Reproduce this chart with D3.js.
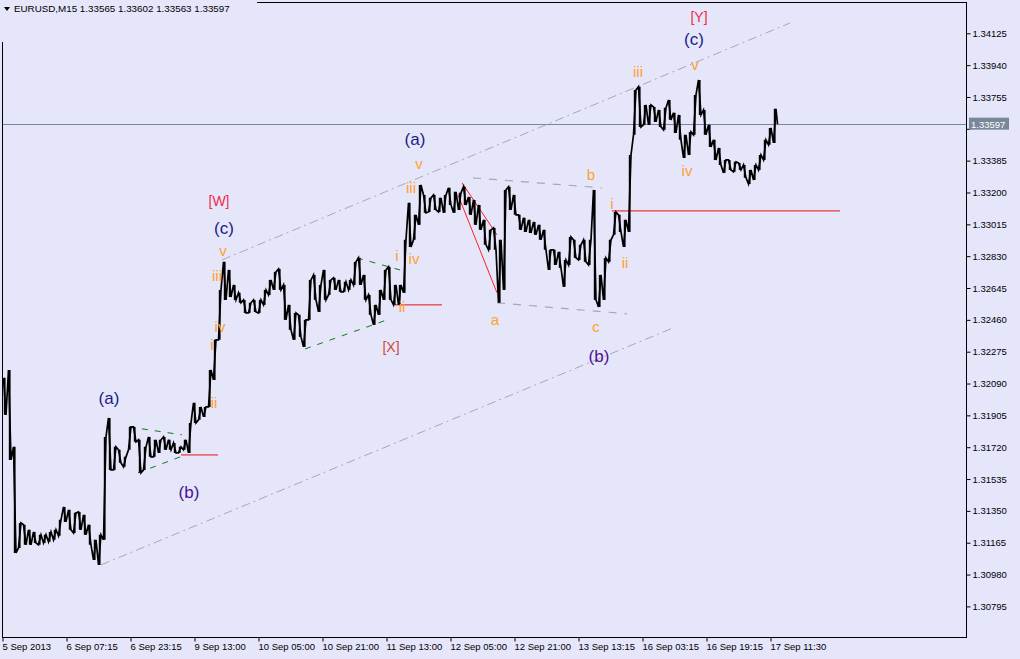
<!DOCTYPE html>
<html><head><meta charset="utf-8">
<script src="https://cdn.jsdelivr.net/npm/d3@7/dist/d3.min.js"></script>
<style>
html,body{margin:0;padding:0;background:#e6e6fa;}
svg{display:block;}
text{font-family:"Liberation Sans",Arial,sans-serif;}
</style></head>
<body><svg id="c" width="1020" height="659"></svg>
<script>
// ---- data ----
const symbolTitle = "EURUSD,M15  1.33565 1.33602 1.33563 1.33597";
const priceTicks = [1.34125,1.33940,1.33755,1.33570,1.33385,1.33200,1.33015,1.32830,1.32645,1.32460,1.32275,1.32090,1.31905,1.31720,1.31535,1.31350,1.31165,1.30980,1.30795];
const timeLabels = ["5 Sep 2013","6 Sep 07:15","6 Sep 23:15","9 Sep 13:00","10 Sep 05:00","10 Sep 21:00","11 Sep 13:00","12 Sep 05:00","12 Sep 21:00","13 Sep 13:15","16 Sep 03:15","16 Sep 19:15","17 Sep 11:30"];
const timeTickBars = [0,64,128,192,256,320,384,448,512,576,640,704,768];
const barsPerBlock = 5;
const blockHigh = [1.32123,1.32169,1.31722,1.31280,1.31269,1.31240,1.31228,1.31211,1.31211,1.31228,
1.31240,1.31298,1.31373,1.31356,1.31339,1.31344,1.31327,1.31269,1.31182,1.31211,
1.31780,1.31890,1.31722,1.31705,1.31664,1.31838,1.31838,1.31763,1.31722,1.31780,
1.31763,1.31763,1.31780,1.31763,1.31745,1.31722,1.31763,1.31861,1.31978,1.31954,
1.31954,1.32169,1.32344,1.32634,1.32797,1.32750,1.32663,1.32617,1.32576,1.32559,
1.32576,1.32576,1.32634,1.32692,1.32739,1.32756,1.32663,1.32547,1.32500,1.32489,
1.32460,1.32692,1.32721,1.32663,1.32750,1.32692,1.32704,1.32692,1.32681,1.32692,
1.32797,1.32820,1.32721,1.32605,1.32547,1.32634,1.32750,1.32768,1.32663,1.32663,
1.32925,1.33140,1.33070,1.33244,1.33186,1.33169,1.33186,1.33169,1.33186,1.33227,
1.33204,1.33198,1.33233,1.33174,1.33157,1.33128,1.33041,1.32983,1.32994,1.32925,
1.33215,1.33233,1.33186,1.33070,1.33053,1.33041,1.33029,1.33012,1.32983,1.32867,
1.32867,1.32855,1.32808,1.32942,1.32925,1.32896,1.32925,1.32925,1.33215,1.32721,
1.32820,1.32925,1.33087,1.33070,1.33041,1.33418,1.33796,1.33814,1.33709,1.33709,
1.33697,1.33680,1.33692,1.33738,1.33663,1.33651,1.33535,1.33552,1.33767,1.33854,
1.33680,1.33593,1.33506,1.33459,1.33389,1.33389,1.33378,1.33372,1.33360,1.33331,
1.33360,1.33418,1.33506,1.33575,1.33686];
const blockLow = [1.31908,1.31646,1.31106,1.31135,1.31153,1.31153,1.31164,1.31153,1.31164,1.31170,
1.31182,1.31205,1.31286,1.31240,1.31222,1.31240,1.31211,1.31153,1.31065,1.31036,
1.31182,1.31588,1.31588,1.31629,1.31606,1.31705,1.31751,1.31571,1.31588,1.31664,
1.31664,1.31687,1.31705,1.31705,1.31687,1.31687,1.31705,1.31687,1.31861,1.31879,
1.31896,1.31954,1.32111,1.32344,1.32576,1.32593,1.32576,1.32559,1.32500,1.32500,
1.32506,1.32500,1.32547,1.32605,1.32634,1.32634,1.32460,1.32402,1.32344,1.32361,
1.32303,1.32460,1.32576,1.32506,1.32576,1.32605,1.32634,1.32623,1.32623,1.32634,
1.32663,1.32663,1.32576,1.32489,1.32431,1.32489,1.32576,1.32576,1.32547,1.32547,
1.32617,1.32884,1.32925,1.33012,1.33082,1.33087,1.33099,1.33087,1.33082,1.33128,
1.33082,1.33099,1.33128,1.33070,1.33012,1.32983,1.32896,1.32867,1.32867,1.32559,
1.32634,1.33099,1.33070,1.32983,1.32971,1.32965,1.32954,1.32925,1.32867,1.32750,
1.32779,1.32762,1.32652,1.32779,1.32820,1.32808,1.32797,1.32779,1.32576,1.32535,
1.32576,1.32797,1.32954,1.32971,1.32884,1.32971,1.33535,1.33581,1.33593,1.33593,
1.33610,1.33581,1.33564,1.33622,1.33546,1.33506,1.33401,1.33418,1.33535,1.33651,
1.33535,1.33465,1.33389,1.33360,1.33314,1.33331,1.33320,1.33331,1.33285,1.33250,
1.33273,1.33331,1.33389,1.33477,1.33488];
const lastBar = 775;
const lastClose = 1.33597;

// annotation objects: [bar0, price0, bar1, price1]
const channelLines = [[219.5,1.32808,787.5,1.34185],[98.5,1.31036,670.5,1.32413]];
const flatLines = [[470.5,1.33285,599.5,1.33227],[494.5,1.32559,624.5,1.32495]];
const wedgeLines = [[459.5,1.33256,494.5,1.32954],[455.5,1.33186,494.5,1.32617]];
const levelLines = [[178.5,1.31675,215.5,1.31675],[392.5,1.32547,439.5,1.32547],[609.5,1.33093,837.5,1.33093]];
const triangleLines = [[126.5,1.31838,179.5,1.31792],[135.5,1.31571,180.5,1.31670],[354.5,1.32820,397.5,1.32750],[302.5,1.32291,384.5,1.32460]];
// wave labels: [text, bar, price, degree]
const waveLabels = [
 ["(a)",106.5,1.32001,"minor"],["(b)",186.5,1.31455,"minorB"],["ii",211.5,1.31978,"minute"],["i",209.5,1.32315,"minute"],
 ["iv",217.5,1.32419,"minute"],["iii",214.5,1.32715,"minute"],["v",220.5,1.32861,"minute"],["(c)",221.5,1.32989,"minor"],
 ["[W]",216.5,1.33151,"inter"],["[X]",388.5,1.32303,"interX"],["ii",399.5,1.32535,"minute"],["i",394.5,1.32832,"minute"],
 ["iv",411.5,1.32814,"minute"],["iii",408.5,1.33227,"minute"],["v",416.5,1.33366,"minute"],["(a)",412.5,1.33506,"minor"],
 ["a",492.5,1.32460,"minute"],["b",588.5,1.33302,"minute"],["c",593.5,1.32419,"minute"],["(b)",596.5,1.32245,"minorB"],
 ["i",609.5,1.33134,"minute"],["ii",622.5,1.32791,"minute"],["iii",635.5,1.33901,"minute"],["v",692.5,1.33941,"minute"],
 ["(c)",691.5,1.34087,"minor"],["[Y]",696.5,1.34220,"inter"],["iv",684.5,1.33326,"minute"]
];

// ---- layout ----
const W = 1020, H = 659;
const plot = {x0: 2.5, x1: 966.5, y0: 2.5, y1: 637.5};
const bg = "#e6e6fa";
const svg = d3.select("#c");
svg.append("rect").attr("width", W).attr("height", H).attr("fill", bg);

const x = d3.scaleLinear().domain([0, 964]).range([plot.x0, plot.x1]);
const y = d3.scaleLinear().domain([1.34125, 1.30795]).range([33.3, 606.4]);

svg.append("clipPath").attr("id","pc").append("rect")
  .attr("x", plot.x0).attr("y", plot.y0).attr("width", plot.x1-plot.x0).attr("height", plot.y1-plot.y0);
const g = svg.append("g").attr("clip-path","url(#pc)");

// current price line
g.append("line").attr("x1", plot.x0).attr("x2", plot.x1)
  .attr("y1", Math.round(y(lastClose))+0.5).attr("y2", Math.round(y(lastClose))+0.5)
  .attr("stroke", "#778899").attr("stroke-width", 1);

function seg(sel, arr, color, dash, w) {
  sel.selectAll(null).data(arr).enter().append("line")
    .attr("x1", d => x(d[0])).attr("y1", d => y(d[1]))
    .attr("x2", d => x(d[2])).attr("y2", d => y(d[3]))
    .attr("stroke", color).attr("stroke-width", w || 1)
    .attr("stroke-dasharray", dash || null);
}
seg(g, channelLines, "#a8a8b0", "9,4,2,4", 1);
seg(g, flatLines, "#a8a8b0", "8,8", 1.2);
seg(g, triangleLines, "#127a12", "6,7", 1);
seg(g, wedgeLines, "#ff2020", null, 1);
seg(g, levelLines, "#e81010", null, 1);

// price path
const pts = [];
const n = blockHigh.length;
for (let i = 0; i < n; i++) {
  const b = i * barsPerBlock;
  const mid = (blockHigh[i] + blockLow[i]) / 2;
  const nextMid = i < n - 1 ? (blockHigh[i+1] + blockLow[i+1]) / 2 : lastClose;
  if (nextMid >= mid) { pts.push([b + 1, blockLow[i]]); pts.push([b + 3.5, blockHigh[i]]); }
  else { pts.push([b + 1, blockHigh[i]]); pts.push([b + 3.5, blockLow[i]]); }
}
pts.push([lastBar, lastClose]);
g.append("path").attr("d", d3.line().x(d => x(d[0])).y(d => y(d[1]))(pts))
  .attr("fill", "none").attr("stroke", "#000").attr("stroke-width", 1.7).attr("stroke-linejoin","miter");
g.selectAll(null).data(d3.range(n)).enter().append("line")
  .attr("x1", i => x(i*barsPerBlock+2.2)).attr("x2", i => x(i*barsPerBlock+2.2))
  .attr("y1", i => y(blockHigh[i])).attr("y2", i => y(blockLow[i]))
  .attr("stroke", "#000").attr("stroke-width", 1.8);

// wave labels
const styles = {
  minute: {fill: "#ffa02e", size: 15},
  minor: {fill: "#1c1c84", size: 17},
  minorB: {fill: "#4a1090", size: 17},
  inter: {fill: "#ee2a4a", size: 14},
  interX: {fill: "#d2483a", size: 14}
};
svg.selectAll(null).data(waveLabels).enter().append("text")
  .attr("x", d => x(d[1])).attr("y", d => y(d[2]))
  .attr("text-anchor", "middle").attr("dominant-baseline", "central")
  .attr("font-family", "DejaVu Sans, Verdana, sans-serif")
  .attr("fill", d => styles[d[3]].fill).attr("font-size", d => styles[d[3]].size)
  .text(d => d[0]);

// frame
svg.append("rect").attr("x", plot.x0).attr("y", plot.y0)
  .attr("width", plot.x1 - plot.x0).attr("height", plot.y1 - plot.y0)
  .attr("fill", "none").attr("stroke", "#000").attr("stroke-width", 1);
svg.append("rect").attr("x", 0).attr("y", 0).attr("width", 257).attr("height", 42).attr("fill", bg);

// header
svg.append("path").attr("d", "M4,7 L10,7 L7,11 Z").attr("fill", "#000");
svg.append("text").attr("x", 14).attr("y", 12).attr("font-size", 9.8).attr("fill", "#000").text(symbolTitle);

// right axis (the tick under the current-price tag keeps its tick mark only)
const tagPrice = d3.format(".5f")(lastClose);
const ay = svg.append("g").attr("transform", `translate(${plot.x1},0)`)
  .call(d3.axisRight(y).tickValues(priceTicks).tickSize(4).tickPadding(2)
    .tickFormat(d => Math.abs(y(d) - y(lastClose)) < 10 ? "" : d3.format(".5f")(d)));
ay.select(".domain").remove();
ay.selectAll("text").attr("font-size", 9.5).attr("font-family", "Liberation Sans, Arial, sans-serif").attr("fill", "#000");
ay.selectAll("line").attr("stroke", "#000");

// bottom axis
const ax = svg.append("g").attr("transform", `translate(0,${plot.y1})`)
  .call(d3.axisBottom(x).tickValues(timeTickBars).tickSize(4).tickPadding(2).tickFormat((d, i) => timeLabels[i]));
ax.select(".domain").remove();
ax.selectAll("text").attr("font-size", 9.5).attr("font-family", "Liberation Sans, Arial, sans-serif")
  .attr("text-anchor", "start").attr("dx", -0.5).attr("fill", "#000");
ax.selectAll("line").attr("stroke", "#000");

// current price tag
const py = y(lastClose);
svg.append("rect").attr("x", 969).attr("y", py - 6.5).attr("width", 40).attr("height", 12).attr("fill", "#778899");
svg.append("text").attr("x", 971).attr("y", py).attr("dominant-baseline", "central")
  .attr("font-size", 9.5).attr("fill", "#fff").text(tagPrice);
</script></body></html>
